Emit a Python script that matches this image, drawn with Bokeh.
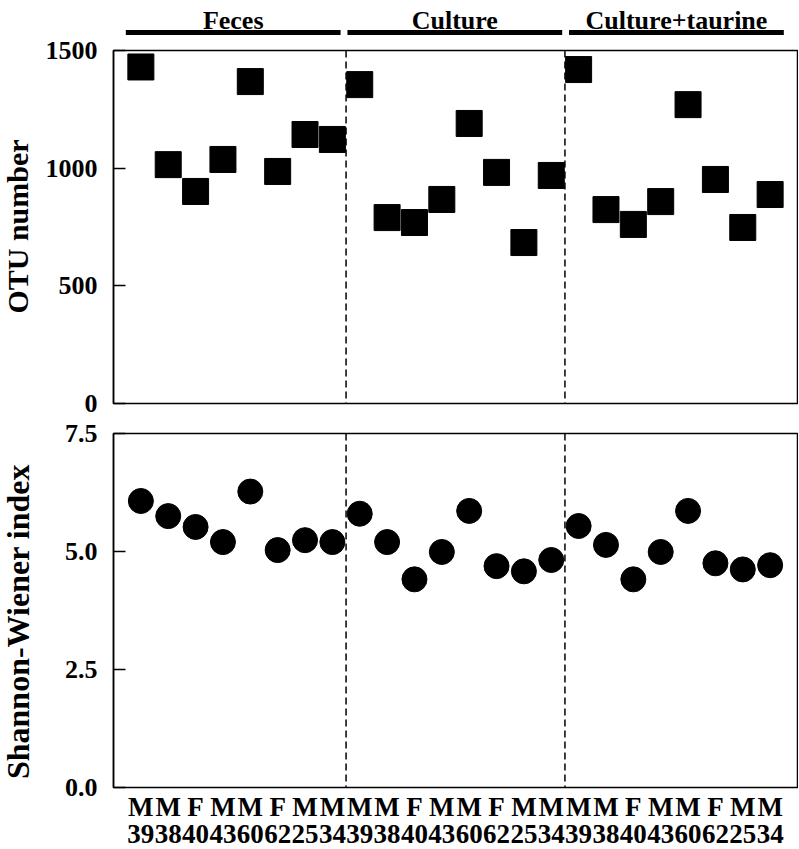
import math
from bokeh.plotting import figure
from bokeh.layouts import column, row
from bokeh.models import Range1d, FixedTicker, Span, PrintfTickFormatter, ColumnDataSource
from bokeh.core.properties import value
from bokeh.embed import file_html
from bokeh.resources import INLINE

# ---------------- data ----------------
groups = ["Feces", "Culture", "Culture+taurine"]
sex = ["M", "M", "F", "M", "M", "F", "M", "M"]
ids = ["39", "38", "40", "43", "60", "62", "25", "34"]

otu_feces = [1430, 1015, 901, 1037, 1368, 986, 1143, 1122]
otu_culture = [1355, 790, 769, 867, 1190, 982, 684, 969]
otu_taurine = [1419, 824, 761, 858, 1270, 952, 748, 888]

sw_feces = [6.07, 5.75, 5.52, 5.20, 6.27, 5.03, 5.24, 5.20]
sw_culture = [5.80, 5.20, 4.41, 4.99, 5.86, 4.69, 4.58, 4.82]
sw_taurine = [5.54, 5.14, 4.41, 4.99, 5.86, 4.75, 4.62, 4.71]

otu_ticks = [0, 500, 1000, 1500]
sw_ticks = [0, 2.5, 5.0, 7.5]
y_titles = ["OTU number", "Shannon-Wiener index"]

# ---------------- derived ----------------
n = len(sex)
xs = list(range(1, 3 * n + 1))
otu_all = otu_feces + otu_culture + otu_taurine
sw_all = sw_feces + sw_culture + sw_taurine
src = ColumnDataSource(dict(x=xs, otu=otu_all, sw=sw_all))
xlabels = {i + 1: f"{sex[i % n]}\n{ids[i % n]}" for i in range(3 * n)}
xmax = 3 * n + 1
seps = [n + 0.5, 2 * n + 0.5]

FONT = "Liberation Serif"
STRIP_W = 40
LEFT = 73
FW = 684
HEAD_H = 35
P1_TOP, P1_FRAME, P1_BOT = 15, 353, 15
P2_TOP, P2_FRAME, P2_BOT = 15, 354, 61
TOTAL_H = HEAD_H + P1_TOP + P1_FRAME + P1_BOT + P2_TOP + P2_FRAME + P2_BOT


def base(frame_h, top, bottom):
    p = figure(frame_width=FW, frame_height=frame_h, output_backend="svg",
               toolbar_location=None, x_range=Range1d(0, xmax), title=None,
               min_border_left=LEFT, min_border_right=1,
               min_border_top=top, min_border_bottom=bottom)
    p.xgrid.visible = False
    p.ygrid.visible = False
    p.outline_line_color = "black"
    p.outline_line_width = 1.5
    p.background_fill_color = "white"
    p.border_fill_color = "white"
    for s in seps:
        p.add_layout(Span(location=s, dimension="height", line_color="black",
                          line_width=1.5, line_dash="7 4"))
    ax = p.yaxis[0]
    ax.major_tick_in = 12
    ax.major_tick_out = 0
    ax.minor_tick_line_color = None
    ax.axis_line_width = 1.5
    ax.major_tick_line_width = 1.5
    ax.major_label_standoff = 16
    ax.major_label_text_font = FONT
    ax.major_label_text_font_style = "bold"
    ax.major_label_text_font_size = "26px"
    ax.major_label_text_color = "black"
    return p


# left strip holding the rotated y-axis titles
strip = figure(frame_width=STRIP_W, frame_height=TOTAL_H, output_backend="svg",
               toolbar_location=None, x_range=Range1d(0, STRIP_W),
               y_range=Range1d(0, TOTAL_H), title=None,
               min_border_left=0, min_border_right=0, min_border_top=0, min_border_bottom=0,
               x_axis_location=None, y_axis_location=None)
strip.xgrid.visible = False
strip.ygrid.visible = False
strip.outline_line_color = None
strip.border_fill_color = "white"
title_x = [17, 17]
title_y = [TOTAL_H - 226, TOTAL_H - 621]
title_sizes = ["30px", "32px"]
for tx, ty, tt, ts in zip(title_x, title_y, y_titles, title_sizes):
    strip.text(x=[tx], y=[ty], text=[tt], angle=math.pi / 2, text_font=value(FONT),
               text_font_style="bold", text_font_size=ts, text_align="center",
               text_baseline="middle", text_color="black")

# header (group names and bars)
h = figure(frame_width=FW, frame_height=HEAD_H, output_backend="svg", toolbar_location=None,
           x_range=Range1d(0, xmax), y_range=Range1d(0, HEAD_H), title=None,
           min_border_left=LEFT, min_border_right=1, min_border_top=0, min_border_bottom=0,
           x_axis_location=None, y_axis_location=None)
h.xgrid.visible = False
h.ygrid.visible = False
h.outline_line_color = None
h.border_fill_color = "white"
bx0 = [g * 8.1 + 0.45 for g in range(3)]
bx1 = [g * 8.1 + 8.3 for g in range(3)]
bxc = [(a + b) / 2 for a, b in zip(bx0, bx1)]
h.segment(x0=bx0, x1=bx1, y0=[3] * 3, y1=[3] * 3, line_color="black", line_width=5,
          line_cap="butt")
h.text(x=bxc, y=[15.5] * 3, text=groups, text_font=value(FONT), text_font_style="bold",
       text_font_size="26px", text_align="center", text_baseline="alphabetic",
       text_color="black")

# top panel
p1 = base(P1_FRAME, P1_TOP, P1_BOT)
p1.xaxis.visible = False
p1.y_range = Range1d(0, 1500)
p1.yaxis.ticker = FixedTicker(ticks=otu_ticks)
p1.scatter("x", "otu", source=src, marker="square", size=26, fill_color="black",
           line_color="black")

# bottom panel
p2 = base(P2_FRAME, P2_TOP, P2_BOT)
p2.y_range = Range1d(0, 7.5)
p2.yaxis.ticker = FixedTicker(ticks=sw_ticks)
p2.yaxis.formatter = PrintfTickFormatter(format="%.1f")
xa = p2.xaxis[0]
xa.ticker = FixedTicker(ticks=xs)
xa.major_label_overrides = xlabels
xa.axis_line_color = None
xa.major_tick_line_color = None
xa.minor_tick_line_color = None
xa.major_tick_in = 0
xa.major_tick_out = 0
xa.major_label_standoff = 4
xa.major_label_text_font = FONT
xa.major_label_text_font_style = "bold"
xa.major_label_text_font_size = "27px"
xa.major_label_text_line_height = 0.9
xa.major_label_text_color = "black"
p2.scatter("x", "sw", source=src, marker="circle", size=25, fill_color="black",
           line_color="black")

layout = row(strip, column(h, p1, p2, spacing=0), spacing=0)
open("out.html", "w").write(file_html(layout, INLINE))
